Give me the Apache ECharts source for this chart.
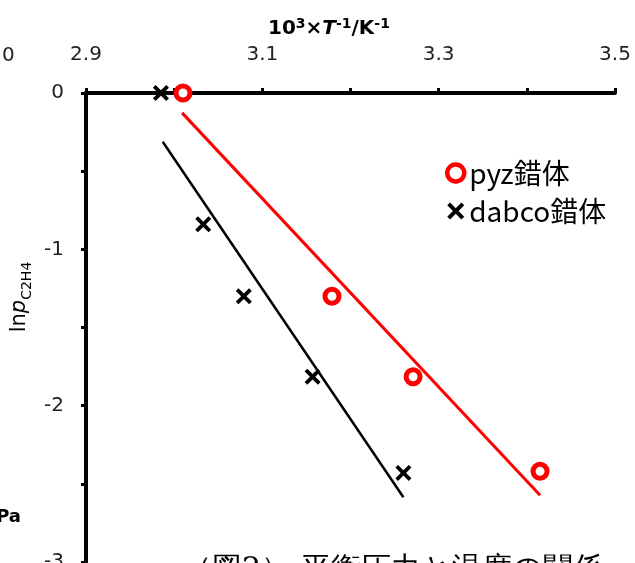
<!DOCTYPE html>
<html>
<head>
<meta charset="utf-8">
<script src="https://cdn.jsdelivr.net/npm/echarts@6/dist/echarts.min.js"></script>
<style>
  html, body { margin: 0; padding: 0; background: #fff; }
  #chart { width: 635px; height: 563px; }
</style>
</head>
<body>
<div id="chart"></div>
<script>
// 測定点 (x: 10^3/T, y: ln p)
const pyzPoints = [[3.010, 0], [3.179, -1.30], [3.271, -1.815], [3.415, -2.42]];
const dabcoPoints = [[2.985, 0], [3.033, -0.84], [3.079, -1.30], [3.157, -1.815], [3.260, -2.43]];
// 近似直線の両端
const pyzFit = [[3.009, -0.127], [3.415, -2.573]];
const dabcoFit = [[2.987, -0.312], [3.260, -2.586]];
const xLabels = [2.9, 3.1, 3.3, 3.5];
const yLabels = [0, -1, -2, -3];

const crossPath = 'path://M0,2 L2,0 L6,4 L10,0 L12,2 L8,6 L12,10 L10,12 L6,8 L2,12 L0,10 L4,6 Z';
const labelFont = '"DejaVu Sans", Verdana, sans-serif';
const cjkFont = '"Noto Sans CJK JP", "DejaVu Sans", sans-serif';

const chart = echarts.init(document.getElementById('chart'));

const option = {
    animation: false,
    backgroundColor: '#fff',
    grid: { left: 86, right: 20, top: 93, bottom: 1, containLabel: false, outerBoundsMode: 'none' },
    xAxis: {
        type: 'value',
        position: 'top',
        min: 2.9,
        max: 3.5,
        interval: 0.1,
        axisLine: { onZero: false, lineStyle: { color: '#000', width: 4 } },
        axisTick: { show: true, length: 5, lineStyle: { color: '#000', width: 3 } },
        splitLine: { show: false },
        axisLabel: {
            margin: 28,
            color: '#222',
            fontSize: 20,
            fontFamily: labelFont,
            formatter: function (v) {
                const hit = xLabels.find(function (l) { return Math.abs(l - v) < 1e-6; });
                return hit !== undefined ? hit.toFixed(1) : '';
            }
        }
    },
    yAxis: {
        type: 'value',
        min: -3,
        max: 0,
        interval: 0.5,
        axisLine: { onZero: false, lineStyle: { color: '#000', width: 4 } },
        axisTick: { show: true, length: 5, lineStyle: { color: '#000', width: 3 } },
        splitLine: { show: false },
        axisLabel: {
            margin: 22,
            color: '#222',
            fontSize: 20,
            fontFamily: labelFont,
            formatter: function (v) {
                const hit = yLabels.find(function (l) { return Math.abs(l - v) < 1e-6; });
                return hit !== undefined ? String(hit) : '';
            }
        }
    },
    legend: {
        orient: 'vertical',
        left: 440,
        top: 153,
        itemGap: 8,
        itemWidth: 17,
        itemHeight: 17,
        data: [
            { name: 'pyz錯体', itemStyle: { color: '#fff', borderColor: '#ff0000', borderWidth: 4.5 } },
            { name: 'dabco錯体' }
        ],
        textStyle: { fontSize: 28, color: '#000', fontFamily: cjkFont, lineHeight: 30 }
    },
    graphic: [
        {
            type: 'text', left: 268, top: 17,
            style: {
                text: '10{sup|3}×{it|T}{sup|-1}/K{sup|-1}',
                fontSize: 20, fontWeight: 'bold', fontFamily: labelFont, fill: '#000',
                rich: {
                    sup: { fontSize: 14, fontWeight: 'bold', fontFamily: labelFont, verticalAlign: 'top', lineHeight: 24 },
                    it: { fontSize: 20, fontWeight: 'bold', fontStyle: 'italic', fontFamily: labelFont }
                }
            }
        },
        {
            type: 'text', x: 20, y: 297, rotation: Math.PI / 2,
            style: {
                text: 'ln{it|p}{sub|C2H4}',
                fontSize: 21, fontFamily: labelFont, fill: '#000',
                align: 'center', verticalAlign: 'middle',
                rich: {
                    it: { fontSize: 21, fontStyle: 'italic', fontFamily: labelFont },
                    sub: { fontSize: 14, fontFamily: labelFont, verticalAlign: 'bottom', lineHeight: 28 }
                }
            }
        },
        {
            type: 'text', left: 2, top: 46,
            style: { text: '0', fontSize: 20, fontFamily: labelFont, fill: '#222' }
        },
        {
            type: 'text', x: 21, y: 517,
            style: { text: 'kPa', fontSize: 18, fontWeight: 'bold', fontFamily: labelFont, fill: '#000', align: 'right', verticalAlign: 'middle' }
        },
        {
            type: 'text', left: 182, top: 555,
            style: { text: '（図2） 平衡圧力と温度の関係', fontSize: 30, fontFamily: '"DejaVu Serif", serif', fill: '#000' }
        }
    ],
    series: [
        {
            name: 'pyz近似', type: 'line', data: pyzFit, symbol: 'none', z: 2,
            lineStyle: { color: '#ff0000', width: 3 }
        },
        {
            name: 'dabco近似', type: 'line', data: dabcoFit, symbol: 'none', z: 2,
            lineStyle: { color: '#000', width: 2.5 }
        },
        {
            name: 'pyz錯体', type: 'scatter', data: pyzPoints, symbol: 'circle', symbolSize: 14, z: 5,
            itemStyle: { color: '#fff', borderColor: '#ff0000', borderWidth: 5, opacity: 1 }
        },
        {
            name: 'dabco錯体', type: 'scatter', data: dabcoPoints, symbol: crossPath, symbolSize: 16, z: 5,
            itemStyle: { color: '#000', opacity: 1 }
        }
    ]
};

chart.setOption(option);
</script>
</body>
</html>
